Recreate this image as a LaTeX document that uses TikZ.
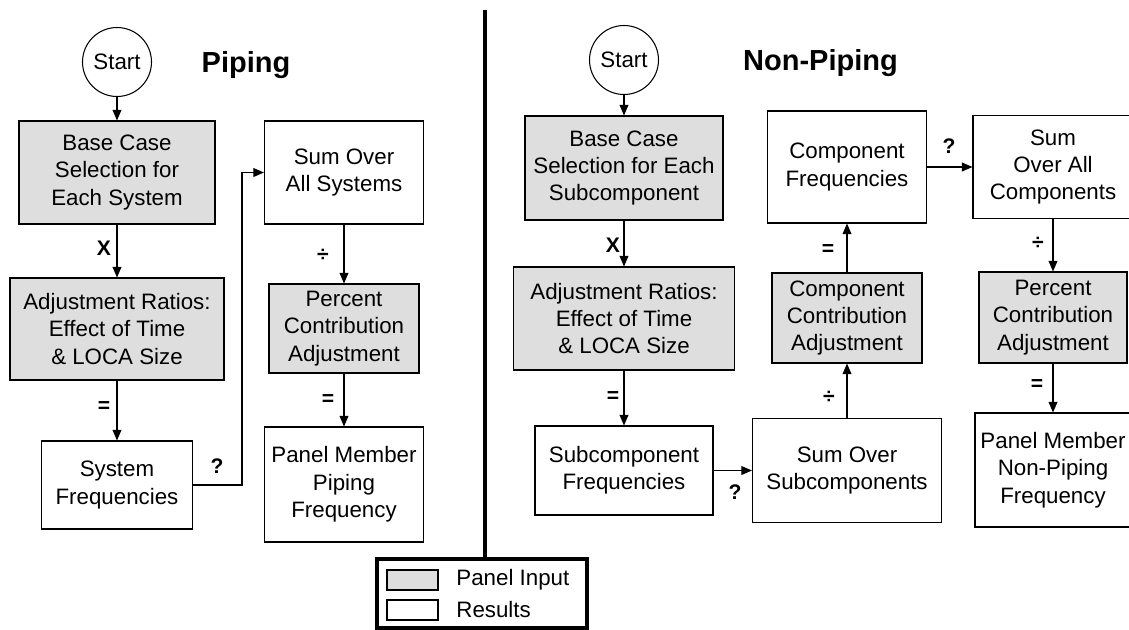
\documentclass[tikz,border=0pt]{standalone}
\usepackage{fontspec}
\setmainfont{Liberation Sans}
\usetikzlibrary{arrows.meta,positioning,calc}
\tikzset{
    >={Triangle[length=6pt,width=5pt]},
    every picture/.style={line width=0.6pt},
    wh/.style 2 args={minimum width=#1*0.02cm,minimum height=#2*0.02cm},
    flowbox/.style={rectangle,draw,align=center,inner sep=0pt,font=\fontsize{12.7}{15.6}\selectfont},
    inputbox/.style={flowbox,fill=black!13},
    resultbox/.style={flowbox,fill=white},
    startnode/.style={circle,draw,inner sep=0pt,minimum size=69*0.02cm,font=\fontsize{12.7}{15.6}\selectfont},
    optag/.style={font=\bfseries\fontsize{12}{14}\selectfont,inner sep=0pt},
    heading/.style={font=\bfseries\fontsize{16.5}{20}\selectfont}
}

\begin{document}
\begin{tikzpicture}[x=0.02cm,y=-0.02cm]
    \useasboundingbox (0,0) rectangle (1129,629);

    % Piping
    \node[startnode] (startP) at (117,62) {Start};
    \node[heading] (titleP) at (246,65) {Piping};
    \node[inputbox,wh={196}{103}] (baseP) at (117,172.5) {Base Case\\Selection for\\Each System};
    \node[inputbox,wh={214}{102}] (adjP) at (117,329) {Adjustment Ratios:\\Effect of Time\\\& LOCA Size};
    \node[resultbox,wh={151}{88}] (sysP) at (117,485) {System\\Frequencies};
    \node[resultbox,wh={159}{103}] (sumP) at (344,172.5) {Sum Over\\All Systems};
    \node[inputbox,wh={150}{89}] (pctP) at (344,328.5) {Percent\\Contribution\\Adjustment};
    \node[resultbox,wh={159}{115}] (panelP) at (344,484.5) {Panel Member\\Piping\\Frequency};
    \coordinate (bendP) at (242,485);

    \draw[->] (startP) -- (baseP);
    \draw[->] (baseP) -- (adjP);
    \draw[->] (adjP) -- (sysP);
    \draw[->] (sysP.east) -- (bendP) |- (sumP.west);
    \draw[->] (sumP) -- (pctP);
    \draw[->] (pctP) -- (panelP);

    \node[optag] (opP1) at (104,248) {X};
    \node[optag] (opP2) at (104,407) {=};
    \node[optag] (opP3) at (217,466) {?};
    \node[optag] (opP4) at (323,255) {÷};
    \node[optag] (opP5) at (328,400) {=};

    % Non-Piping
    \node[startnode] (startN) at (624,60) {Start};
    \node[heading] (titleN) at (820.5,63) {Non-Piping};
    \node[inputbox,wh={198}{104}] (baseN) at (624,168) {Base Case\\Selection for Each\\Subcomponent};
    \node[inputbox,wh={221}{103}] (adjN) at (624,318.5) {Adjustment Ratios:\\Effect of Time\\\& LOCA Size};
    \node[resultbox,wh={178}{89}] (subN) at (624,470.5) {Subcomponent\\Frequencies};
    \node[resultbox,wh={189}{104}] (sumsubN) at (847,470.5) {Sum Over\\Subcomponents};
    \node[inputbox,wh={150}{90}] (ccN) at (847,318) {Component\\Contribution\\Adjustment};
    \node[resultbox,wh={159}{112}] (cfN) at (847,167) {Component\\Frequencies};
    \node[resultbox,wh={160}{103}] (sumallN) at (1053,167) {Sum\\Over All\\Components};
    \node[inputbox,wh={148}{91}] (pctN) at (1053,317.5) {Percent\\Contribution\\Adjustment};
    \node[resultbox,wh={156}{114}] (panelN) at (1053,470) {Panel Member\\Non-Piping\\Frequency};

    \draw[->] (startN) -- (baseN);
    \draw[->] (baseN) -- (adjN);
    \draw[->] (adjN) -- (subN);
    \draw[->] (subN) -- (sumsubN);
    \draw[->] (sumsubN) -- (ccN);
    \draw[->] (ccN) -- (cfN);
    \draw[->] (cfN) -- (sumallN);
    \draw[->] (sumallN) -- (pctN);
    \draw[->] (pctN) -- (panelN);

    \node[optag] (opN1) at (613,245) {X};
    \node[optag] (opN2) at (613,397) {=};
    \node[optag] (opN3) at (735,492) {?};
    \node[optag] (opN4) at (829,397) {÷};
    \node[optag] (opN5) at (828,250) {=};
    \node[optag] (opN6) at (949,146) {?};
    \node[optag] (opN7) at (1038,243) {÷};
    \node[optag] (opN8) at (1037,385) {=};

    % legend and divider
    \node[draw,line width=1.8pt,wh={210}{69},inner sep=0pt] (legend) at (482,593.5) {};
    \node[draw,fill=black!13,wh={51}{20},inner sep=0pt] (keyIn) at (412.5,580) {};
    \node[draw,fill=white,wh={51}{20},inner sep=0pt] (keyOut) at (412.5,610) {};
    \node[right=0.23cm of keyIn,font=\fontsize{12.7}{15.6}\selectfont] (keyInTxt) {Panel Input};
    \node[right=0.23cm of keyOut,font=\fontsize{12.7}{15.6}\selectfont] (keyOutTxt) {Results};
    \coordinate (divtop) at (485,10);
    \draw[line width=1.8pt] (divtop) -- (divtop |- legend.north);
\end{tikzpicture}
\end{document}
